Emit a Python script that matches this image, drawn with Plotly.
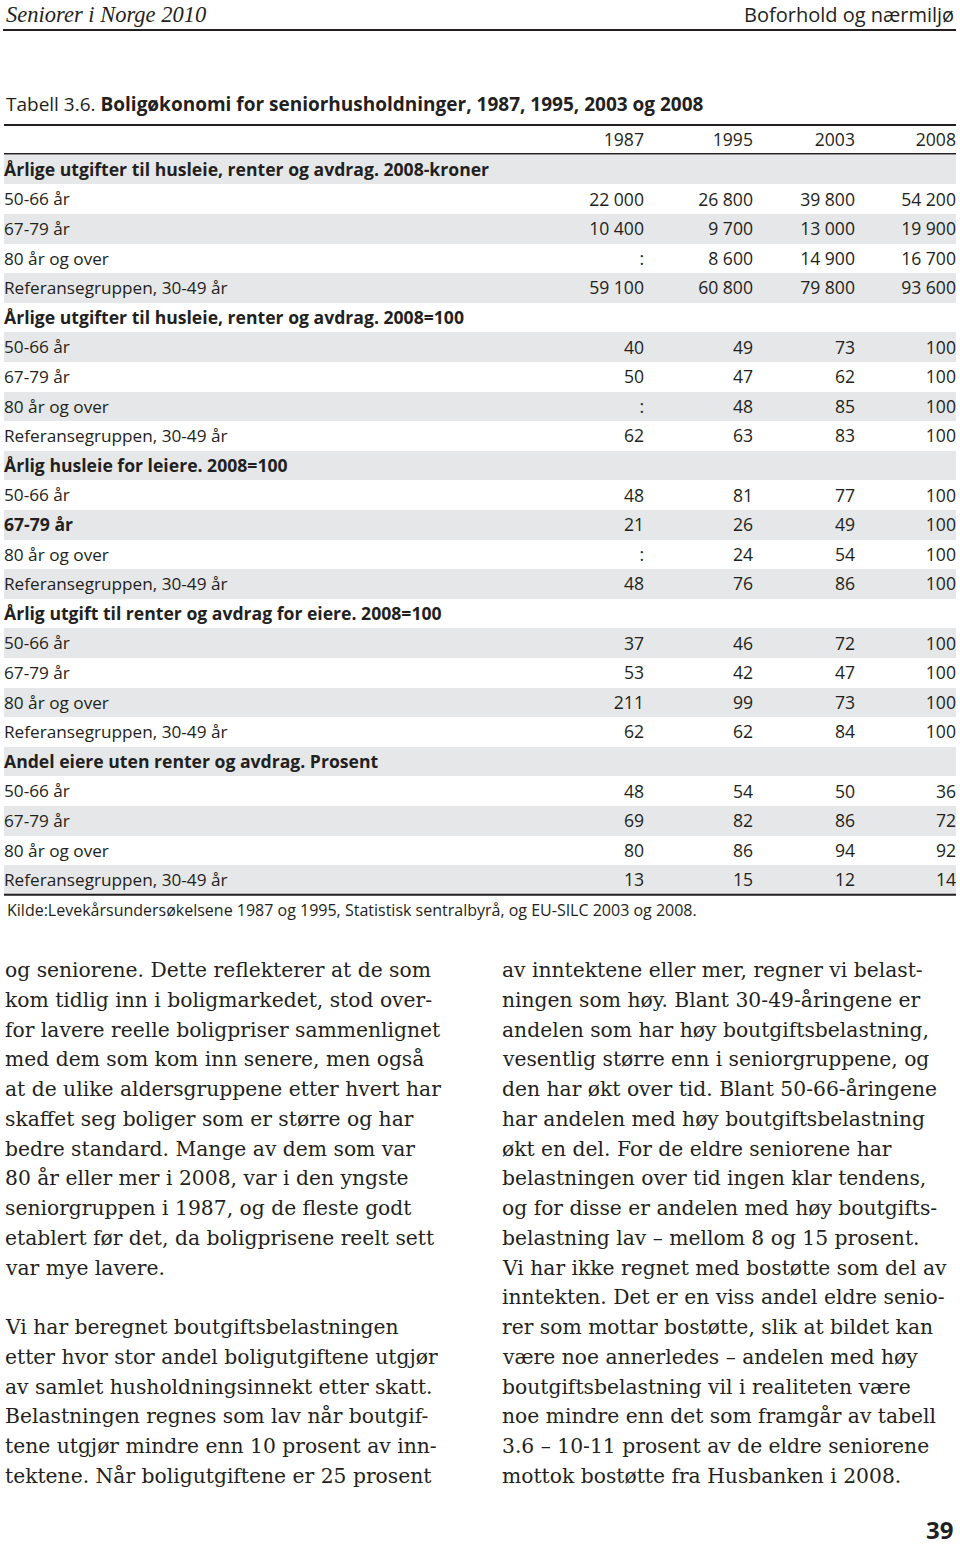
import plotly.graph_objects as go

# ---------------- data ----------------
years = ["1987", "1995", "2003", "2008"]
groups = ["50-66 år", "67-79 år", "80 år og over", "Referansegruppen, 30-49 år"]
sections = [
    "Årlige utgifter til husleie, renter og avdrag. 2008-kroner",
    "Årlige utgifter til husleie, renter og avdrag. 2008=100",
    "Årlig husleie for leiere. 2008=100",
    "Årlig utgift til renter og avdrag for eiere. 2008=100",
    "Andel eiere uten renter og avdrag. Prosent",
]
kroner = [[22000, 26800, 39800, 54200],
          [10400, 9700, 13000, 19900],
          [None, 8600, 14900, 16700],
          [59100, 60800, 79800, 93600]]
index_total = [[40, 49, 73, 100],
               [50, 47, 62, 100],
               [None, 48, 85, 100],
               [62, 63, 83, 100]]
husleie = [[48, 81, 77, 100],
           [21, 26, 49, 100],
           [None, 24, 54, 100],
           [48, 76, 86, 100]]
eiere = [[37, 46, 72, 100],
         [53, 42, 47, 100],
         [211, 99, 73, 100],
         [62, 62, 84, 100]]
andel = [[48, 54, 50, 36],
         [69, 82, 86, 72],
         [80, 86, 94, 92],
         [13, 15, 12, 14]]
section_values = [kroner, index_total, husleie, eiere, andel]
bold_labels = {(2, 1)}  # "67-79 år" in section 3 is printed bold

source = "Kilde:Levekårsundersøkelsene 1987 og 1995, Statistisk sentralbyrå, og EU-SILC 2003 og 2008."
title_plain = "Tabell 3.6. "
title_bold = "Boligøkonomi for seniorhusholdninger, 1987, 1995, 2003 og 2008"
running_left = "Seniorer i Norge 2010"
running_right = "Boforhold og nærmiljø"
page_no = "39"

left_text = [
    "og seniorene. Dette reflekterer at de som",
    "kom tidlig inn i boligmarkedet, stod over-",
    "for lavere reelle boligpriser sammenlignet",
    "med dem som kom inn senere, men også",
    "at de ulike aldersgruppene etter hvert har",
    "skaffet seg boliger som er større og har",
    "bedre standard. Mange av dem som var",
    "80 år eller mer i 2008, var i den yngste",
    "seniorgruppen i 1987, og de fleste godt",
    "etablert før det, da boligprisene reelt sett",
    "var mye lavere.",
    "",
    "Vi har beregnet boutgiftsbelastningen",
    "etter hvor stor andel boligutgiftene utgjør",
    "av samlet husholdningsinnekt etter skatt.",
    "Belastningen regnes som lav når boutgif-",
    "tene utgjør mindre enn 10 prosent av inn-",
    "tektene. Når boligutgiftene er 25 prosent",
]
right_text = [
    "av inntektene eller mer, regner vi belast-",
    "ningen som høy. Blant 30-49-åringene er",
    "andelen som har høy boutgiftsbelastning,",
    "vesentlig større enn i seniorgruppene, og",
    "den har økt over tid. Blant 50-66-åringene",
    "har andelen med høy boutgiftsbelastning",
    "økt en del. For de eldre seniorene har",
    "belastningen over tid ingen klar tendens,",
    "og for disse er andelen med høy boutgifts-",
    "belastning lav – mellom 8 og 15 prosent.",
    "Vi har ikke regnet med bostøtte som del av",
    "inntekten. Det er en viss andel eldre senio-",
    "rer som mottar bostøtte, slik at bildet kan",
    "være noe annerledes – andelen med høy",
    "boutgiftsbelastning vil i realiteten være",
    "noe mindre enn det som framgår av tabell",
    "3.6 – 10-11 prosent av de eldre seniorene",
    "mottok bostøtte fra Husbanken i 2008.",
]

# ---------------- styling / layout ----------------
W, H = 960, 1545
ROW_PX = 29.6
ROW0_PX = 139.9          # pixel centre of the year header row
TXT = "#231f20"
GRAY = "#e6e7e8"
SANS = "Open Sans"
SERIF = "DejaVu Serif"
LABEL_SIZE = 17.2
BOLD_SIZE = 17.6
NUM_SIZE = 17.6
TEXT_NUDGE = 0.07        # small downward nudge of the text inside each row (row units)
col_right = [644, 753, 855, 956]
label_x = 4
table_left, table_right = 4, 956


def fmt(v):
    if v is None:
        return ":"
    return f"{v:,}".replace(",", " ")


# build the row list
row_labels, row_vals, row_bold = [], [], []
for s, (title, vals) in enumerate(zip(sections, section_values)):
    row_labels.append(title)
    row_vals.append([None] * 4)
    row_bold.append(True)
    for g, (grp, v) in enumerate(zip(groups, vals)):
        row_labels.append(grp)
        row_vals.append([fmt(x) for x in v])
        row_bold.append((s, g) in bold_labels)

n_rows = len(row_labels)
rows = list(range(1, n_rows + 1))
gray_rows = [r for r in rows if r % 2 == 1]

fig = go.Figure()

# row shading
fig.add_trace(go.Bar(
    orientation="h", y=gray_rows, x=[table_right - table_left] * len(gray_rows),
    base=table_left, width=1, marker=dict(color=GRAY, line=dict(width=0)),
    hoverinfo="skip", showlegend=False))

# year header
fig.add_trace(go.Scatter(
    x=col_right, y=[TEXT_NUDGE] * 4, text=years, mode="text", textposition="middle left",
    textfont=dict(family=SANS, size=NUM_SIZE, color=TXT), hoverinfo="skip", showlegend=False))

# row labels (regular and bold)
for want_bold, size in ((False, LABEL_SIZE), (True, BOLD_SIZE)):
    ys = [r + TEXT_NUDGE for r, b in zip(rows, row_bold) if b == want_bold]
    ts = [f"<b>{t}</b>" if b else t for t, b in zip(row_labels, row_bold) if b == want_bold]
    fig.add_trace(go.Scatter(
        x=[label_x] * len(ys), y=ys, text=ts, mode="text", textposition="middle right",
        textfont=dict(family=SANS, size=size, color=TXT), hoverinfo="skip", showlegend=False))

# values per column
for c in range(4):
    ys = [r + TEXT_NUDGE for r, v in zip(rows, row_vals) if v[c] is not None]
    ts = [v[c] for v in row_vals if v[c] is not None]
    fig.add_trace(go.Scatter(
        x=[col_right[c]] * len(ys), y=ys, text=ts, mode="text", textposition="middle left",
        textfont=dict(family=SANS, size=NUM_SIZE, color=TXT), hoverinfo="skip", showlegend=False))

# y range maps row index to page pixels
y_top = -ROW0_PX / ROW_PX
y_bot = (H - ROW0_PX) / ROW_PX


def py(px):
    return 1 - px / H


shapes = [
    dict(type="line", xref="x", yref="paper", x0=3, x1=956, y0=py(30), y1=py(30),
         line=dict(color=TXT, width=2)),
    dict(type="line", xref="x", yref="y", x0=table_left, x1=table_right, y0=-0.5, y1=-0.5,
         line=dict(color=TXT, width=2)),
    dict(type="line", xref="x", yref="y", x0=table_left, x1=table_right, y0=0.47, y1=0.47,
         line=dict(color=TXT, width=1.5)),
    dict(type="line", xref="x", yref="y", x0=table_left, x1=table_right,
         y0=n_rows + 0.5, y1=n_rows + 0.5, line=dict(color=TXT, width=2)),
]

ann = []
ann.append(dict(x=4 / W, y=py(14), xref="paper", yref="paper", text=f"<i>{running_left}</i>",
                xanchor="left", yanchor="middle", showarrow=False,
                font=dict(family="Liberation Serif", size=22.5, color=TXT)))
ann.append(dict(x=956 / W, y=py(14), xref="paper", yref="paper", text=running_right,
                xanchor="right", yanchor="middle", showarrow=False,
                font=dict(family=SANS, size=20, color=TXT)))
ann.append(dict(x=4 / W, y=py(104), xref="paper", yref="paper",
                text=f"{title_plain}<b>{title_bold}</b>",
                xanchor="left", yanchor="middle", showarrow=False,
                font=dict(family=SANS, size=19, color=TXT)))
ann.append(dict(x=5 / W, y=py(910), xref="paper", yref="paper", text=source,
                xanchor="left", yanchor="middle", showarrow=False,
                font=dict(family=SANS, size=16, color=TXT)))
ann.append(dict(x=955 / W, y=py(1529), xref="paper", yref="paper", text=f"<b>{page_no}</b>",
                xanchor="right", yanchor="middle", showarrow=False,
                font=dict(family=SANS, size=24, color=TXT)))

BODY_Y0, BODY_DY = 970, 29.76
for col_x, lines in ((3, left_text), (500, right_text)):
    for i, line in enumerate(lines):
        if not line:
            continue
        ann.append(dict(x=col_x / W, y=py(BODY_Y0 + i * BODY_DY), xref="paper", yref="paper",
                        text=line, xanchor="left", yanchor="middle", showarrow=False,
                        font=dict(family=SERIF, size=20.3, color=TXT)))

fig.update_layout(
    width=W, height=H, margin=dict(l=0, r=0, t=0, b=0),
    paper_bgcolor="white", plot_bgcolor="white",
    xaxis=dict(range=[0, W], visible=False, fixedrange=True),
    yaxis=dict(range=[y_bot, y_top], visible=False, fixedrange=True),
    bargap=0, shapes=shapes, annotations=ann, showlegend=False,
)

fig.write_html(
    "out.html",
    config={"displayModeBar": False},
    post_script="document.body.style.margin='0';document.body.style.overflow='hidden';",
)
